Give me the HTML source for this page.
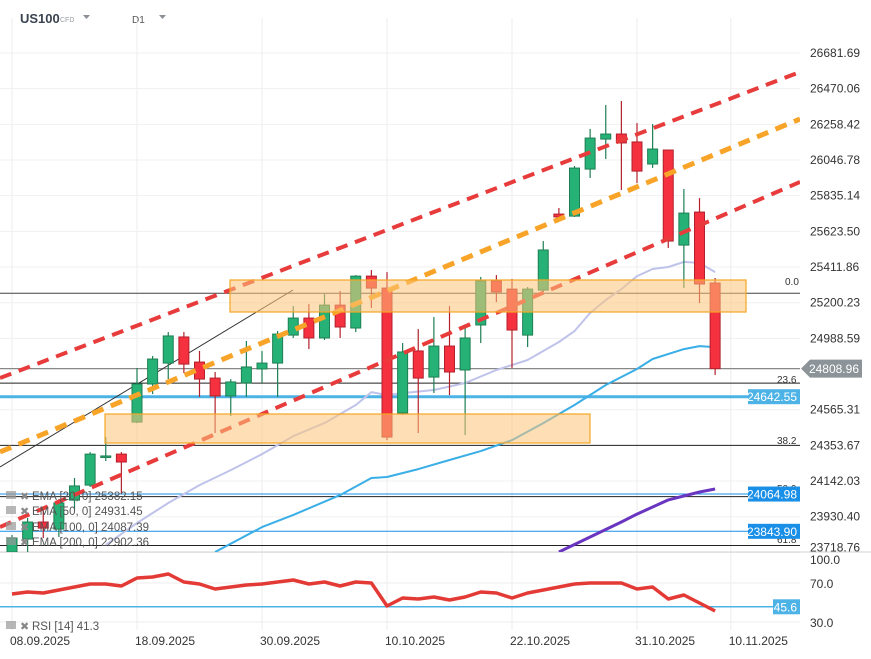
<!DOCTYPE html>
<html><head><meta charset="utf-8"><style>
body{margin:0;background:#fff;font-family:"Liberation Sans",sans-serif;}
svg{display:block}
text{font-family:"Liberation Sans",sans-serif}
</style></head><body>
<svg id="c" width="871" height="659" viewBox="0 0 871 659">
<g>
<text x="20" y="23" font-size="13" font-weight="bold" fill="#3a4450">US100</text>
<text x="60" y="22" font-size="7" fill="#9aa0a6">CFD</text>
<path d="M83 15 L90 15 L86.5 19 Z" fill="#8a9096"/>
<text x="132" y="23" font-size="10" fill="#555">D1</text>
<path d="M159 15 L166 15 L162.5 19 Z" fill="#8a9096"/>
</g>
<g id="grid"></g>
<g id="plot"></g>
<g id="rsi"></g>
<g id="axes"></g>
</svg>
<script>
const NS="http://www.w3.org/2000/svg";
// ---- data ----
const dates=["08.09.2025","18.09.2025","30.09.2025","10.10.2025","22.10.2025","31.10.2025","10.11.2025"];
const dateIdx=[0,8,16,24,32,40,46];
const priceTicks=[26681.69,26470.06,26258.42,26046.78,25835.14,25623.50,25411.86,25200.23,24988.59,24565.31,24353.67,24142.03,23930.40,23718.76];
const opens=[23721,23798,23899,23857,24029,24118,24285,24302,24492,24718,24842,24997,24848,24753,24647,24724,24807,24842,25008,25109,24991,25186,25050,25358,25287,24546,24914,24759,24943,24801,25068,25329,25281,25008,25275,25726,25714,25993,26171,26201,26154,26023,26106,25542,25738,25317];
const highs=[23822,23923,23976,24035,24160,24314,24403,24314,24813,24884,25026,25026,24914,24789,24747,24973,24914,25032,25181,25192,25252,25269,25364,25394,25382,24961,25044,25115,25181,25050,25353,25364,25341,25293,25566,25762,26011,26231,26373,26397,26266,26260,26106,25875,25821,25347];
const lows=[23697,23721,23804,23810,23976,24107,24261,24065,24486,24658,24747,24783,24641,24427,24528,24641,24724,24641,24991,24925,24979,24991,25026,25169,24385,24534,24427,24664,24652,24415,24961,25204,24813,24937,25264,25703,25709,25940,26053,25869,25910,26000,25525,25287,25198,24771];
const closes=[23804,23899,23863,24012,24113,24302,24291,24255,24718,24866,25003,24836,24747,24647,24730,24819,24842,25014,25109,24991,25186,25056,25358,25287,24403,24908,24753,24943,24789,24991,25329,25264,25038,25281,25513,25709,25999,26177,26201,26148,25981,26112,25566,25732,25311,24808.96];
const ema20Idx=[6,8,10,12,14,16,18,20,22,23,24,25,27,29,31,33,35,36,37,38,39,40,41,42,43,44,45];
const ema20=[23763,23893,24012,24118,24207,24302,24409,24486,24593,24670,24652,24664,24682,24724,24801,24860,24967,25032,25139,25216,25281,25358,25400,25412,25442,25436,25382];
const ema50Idx=[13,16,18,21,23,24,26,28,30,32,34,36,38,40,41,43,44,45];
const ema50=[23721,23869,23941,24059,24160,24166,24213,24267,24320,24385,24486,24593,24712,24807,24866,24925,24943,24937];
const ema100Idx=[35,37,39,40,42,44,45];
const ema100=[23721,23810,23899,23946,24030,24077,24095];
const rsiVals=[58.7,60.8,59.7,62.8,65.9,69,69,66.9,75.1,76.2,79.2,71,69,63.8,65.9,67.9,69,71,73.1,69,71,66.9,71,70,46.4,54.6,53.6,55.6,52.6,55.6,60.8,59.7,54.6,59.7,62.8,65.9,69,70,70,70,63.8,65.9,53.6,57.7,49.5,41.3];
const rsiTicks=[100,70,30];
const levelPrices=[25256,24809,24723,24642.55,24353.67,24064.98,24050,23843.90,23760];
// ---- scales ----
const X=i=>12+i*15.625;
const Y=p=>53+(26681.69-p)*0.16855;
const RY=v=>583+(70-v)*0.975;
const plot=document.getElementById('plot'),grid=document.getElementById('grid'),rsiG=document.getElementById('rsi'),axes=document.getElementById('axes');
function mk(tag,attrs,parent){const e=document.createElementNS(NS,tag);for(const k in attrs)e.setAttribute(k,attrs[k]);parent.appendChild(e);return e;}
const defs=mk('defs',{},document.getElementById('c'));
const cp=mk('clipPath',{id:'pc'},defs);mk('rect',{x:0,y:30,width:800,height:522},cp);
const cr=mk('clipPath',{id:'rc'},defs);mk('rect',{x:0,y:553,width:800,height:75},cr);
plot.setAttribute('clip-path','url(#pc)');
dateIdx.forEach(i=>{const l=mk('line',{x1:X(i),x2:X(i),y1:18,y2:630,stroke:'#eeeeee'},grid);

});
priceTicks.forEach(p=>{const l=mk('line',{x1:0,x2:800,y1:Y(p),y2:Y(p),stroke:'#f0f0f0'},grid);

});
rsiTicks.slice(1).forEach(v=>{const l=mk('line',{x1:0,x2:800,y1:RY(v),y2:RY(v),stroke:'#eeeeee'},grid);

});
mk('line',{x1:0,x2:871,y1:552,y2:552,stroke:'#d0d0d0'},grid);
const lvStyle=[['#444',1],['#888',1.2],['#222',1],['#4db3e6',3],['#222',1],['#1a8fe8',1],['#222',1],['#1a8fe8',1],['#222',1]];
const lvEnd=[800,800,800,748,800,748,800,748,800];
levelPrices.forEach((p,k)=>{const l=mk('line',{x1:0,x2:lvEnd[k],y1:Y(p),y2:Y(p),stroke:lvStyle[k][0],'stroke-width':lvStyle[k][1]},plot);

});
function poly(idx,vals,color,w,name){let d=idx.map((i,k)=>(k?'L':'M')+X(i).toFixed(1)+' '+Y(vals[k]).toFixed(1)).join(' ');
const e=mk('path',{d:d,fill:'none',stroke:color,'stroke-width':w,'stroke-linejoin':'round'},plot);

}
poly(ema20Idx,ema20,'#bfc3ea',2,'ema20-line');
poly(ema50Idx,ema50,'#3aaee6',2,'ema50-line');
poly(ema100Idx,ema100,'#6a35c0',3,'ema100-line');
const tl=mk('line',{x1:0,y1:467,x2:293,y2:290,stroke:'#333','stroke-width':1},plot);


closes.forEach((c,i)=>{const o=opens[i],up=c>=o,x=X(i);
const g=mk('g',{},plot);


const col=up?'#26b276':'#f5303f',bd=up?'#1d7f53':'#b3202c';
mk('line',{x1:x,x2:x,y1:Y(highs[i]),y2:Y(lows[i]),stroke:bd,'stroke-width':1.2},g);
const t=Y(Math.max(o,c)),b=Y(Math.min(o,c));
mk('rect',{x:x-5,y:t,width:10,height:Math.max(1.5,b-t),fill:col,stroke:bd,'stroke-width':1},g);});
[[0,378,800,72,'#e83c3c',4],[0,452,800,119,'#f8a428',5],[0,527,800,182,'#e83c3c',4]].forEach((s,k)=>{
const l=mk('line',{x1:s[0],y1:s[1],x2:s[2],y2:s[3],stroke:s[4],'stroke-width':s[5],'stroke-dasharray':'12 8'},plot);

});
[[230,280,516,32],[105,414,485,29]].forEach(r=>{const e=mk('rect',{x:r[0],y:r[1],width:r[2],height:r[3],fill:'rgba(253,196,120,0.55)',stroke:'#f5a623','stroke-width':1.2},plot);

});
[['0.0',785,285],['23.6',777,383],['38.2',777,444],['50.0',777,492],['61.8',777,543]].forEach(f=>{const t=mk('text',{x:f[1],y:f[2],'font-size':10,fill:'#333'},axes);t.textContent=f[0];

});
rsiG.setAttribute('clip-path','url(#rc)');
const rl=mk('line',{x1:0,x2:800,y1:RY(45.6),y2:RY(45.6),stroke:'#4db3e6','stroke-width':1.5},rsiG);


const rp=mk('path',{d:rsiVals.map((v,i)=>(i?'L':'M')+X(i).toFixed(1)+' '+RY(v).toFixed(1)).join(' '),fill:'none',stroke:'#e33a36','stroke-width':3.5,'stroke-linejoin':'round'},rsiG);


priceTicks.forEach((p,k)=>{const yy=k==priceTicks.length-1?Y(p)-1:Y(p)+4;const t=mk('text',{x:810,y:yy,'font-size':12,fill:'#333'},axes);t.textContent=p.toFixed(2);

});
rsiTicks.forEach((v,k)=>{const t=mk('text',{x:810,y:[564,588,627][k],'font-size':12,fill:'#333'},axes);t.textContent=v.toFixed(1);

});
dates.forEach((d,k)=>{const t=mk('text',{x:X(dateIdx[k])-2,y:645,'font-size':12,fill:'#333'},axes);t.textContent=d;

});
function tag(x,y,w,fill,txt,name,arrow){const g=mk('g',{},axes);


if(arrow)mk('path',{d:`M${x} ${y} L${x+9} ${y-9} L${x+w} ${y-9} L${x+w} ${y+9} L${x+9} ${y+9} Z`,fill:fill},g);
else mk('rect',{x:x,y:y-7.5,width:w,height:15,fill:fill},g);
const t=mk('text',{x:x+w-3,y:y+4.5,'font-size':12,fill:'#fff','text-anchor':'end'},g);t.textContent=txt;}
tag(801,Y(24808.96),61,'#8c9499','24808.96','current-price-tag',true);
tag(748,Y(24642.55),52,'#4db3e6','24642.55','ema-level-tag');
tag(748,Y(24064.98),52,'#1a8fe8','24064.98','level-tag');
tag(748,Y(23843.90),52,'#1a8fe8','23843.90','level-tag');
tag(773,RY(45.6),27,'#4db3e6','45.6','rsi-level-tag');
[['EMA  [20,  0]  25382.15',500],['EMA  [50,  0]  24931.45',515],['EMA  [100,  0]  24087.39',531],['EMA  [200,  0]  22902.36',546],['RSI  [14]  41.3',630]].forEach(l=>{
const g=mk('g',{},axes);


mk('rect',{x:6,y:l[1]-9,width:10,height:8,fill:'#999',opacity:0.7},g);
const x=mk('text',{x:20,y:l[1],'font-size':11,fill:'#888'},g);x.textContent='✖';
const t=mk('text',{x:32,y:l[1],'font-size':11.5,fill:'#555'},g);t.textContent=l[0];});
</script>
</body></html>
